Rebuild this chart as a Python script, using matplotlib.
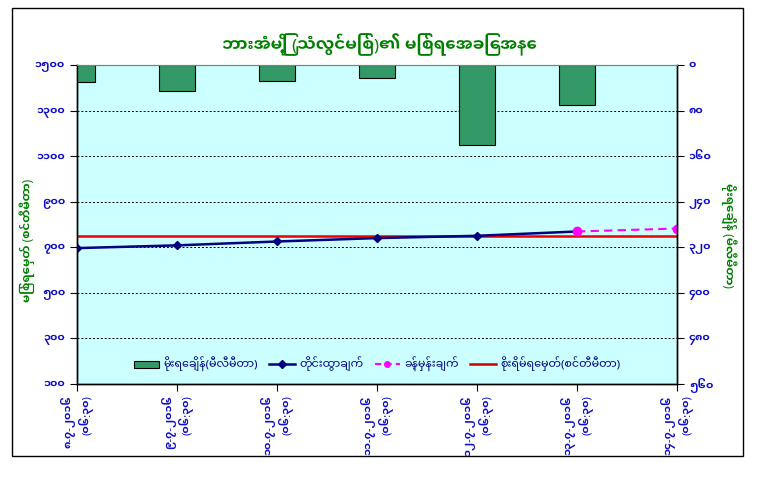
import matplotlib
matplotlib.use("Agg")
import matplotlib.pyplot as plt
from matplotlib.patches import Rectangle, Patch
from matplotlib.lines import Line2D

# ---------------- data ----------------
dates = ["၈-၇-၂၀၁၆", "၉-၇-၂၀၁၆", "၁၀-၇-၂၀၁၆", "၁၁-၇-၂၀၁၆",
         "၁၂-၇-၂၀၁၆", "၁၃-၇-၂၀၁၆", "၁၄-၇-၂၀၁၆"]
times = ["(၀၆:၃၀)"] * 7
rainfall = [30, 46, 28, 23, 140, 70]                 # mm (right axis, inverted)
observed = [697, 709, 726, 741, 751, 770]            # cm
forecast_idx = [5, 6]
forecast = [770, 783]                                # cm
danger_level = 750                                   # cm
left_ticks = [100, 300, 500, 700, 900, 1100, 1300, 1500]
right_ticks = [0, 80, 160, 240, 320, 400, 480, 560]

title = "ဘားအံမြို့ (သံလွင်မြစ်)၏ မြစ်ရေအခြေအနေ"
left_label = "မြစ်ရေမှတ် (စင်တီမီတာ)"
right_label = "မိုးရေချိန် (မီလီမီတာ)"
legend_labels = ["မိုးရေချိန်(မီလီမီတာ)", "တိုင်းထွာချက်", "ခန့်မှန်းချက်",
                 "စိုးရိမ်ရေမှတ်(စင်တီမီတာ)"]

MY_DIGITS = "၀၁၂၃၄၅၆၇၈၉"


def to_my(n):
    return "".join(MY_DIGITS[int(c)] for c in str(n))


plt.rcParams["font.family"] = ["Noto Sans Myanmar UI", "Noto Sans Myanmar",
                               "DejaVu Sans"]

GREEN_TXT = "#008000"
BLUE_TXT = "#1010C8"
NAVY = "#000080"

W, H = 759, 487
fig = plt.figure(figsize=(W / 100, H / 100), dpi=100)
fig.patch.set_facecolor("white")

# outer chart border
fig.add_artist(Rectangle((12 / W, 1 - 456 / H), 731 / W, 448 / H,
                         transform=fig.transFigure, fill=False,
                         edgecolor="black", lw=1.0))

ax1 = fig.add_axes([77 / W, 1 - 384 / H, 600 / W, (384 - 65.3) / H])
ax1.set_facecolor("#CCFFFF")
ax2 = ax1.twinx()
ax2.patch.set_visible(False)

x = list(range(len(dates)))

# left axis: water level
ax1.set_xlim(0, len(dates) - 1)
ax1.set_ylim(left_ticks[0], left_ticks[-1])
ax1.set_yticks(left_ticks)
ax1.set_yticklabels([to_my(v) for v in left_ticks])
ax1.yaxis.grid(True, color="black", linestyle=(0, (2, 2)), lw=0.7)
ax1.set_axisbelow(True)

ax1.plot(x[:len(observed)], observed, color=NAVY, lw=1.8, marker="D",
         markersize=4, zorder=3)
ax1.plot(forecast_idx, forecast, color="#FF00FF", lw=1.5, ls=(0, (4, 2.5)),
         marker="o", markersize=6, zorder=4)
ax1.plot([x[0], x[-1]], [danger_level, danger_level], color="#EE0000",
         lw=1.8, zorder=2)

# right axis: rainfall bars (inverted)
ax2.bar(x[:len(rainfall)], rainfall, width=0.36, color="#339966",
        edgecolor="black", lw=0.8, zorder=2)
ax2.set_ylim(right_ticks[-1], right_ticks[0])
ax2.set_yticks(right_ticks)
ax2.set_yticklabels([to_my(v) for v in right_ticks])

# x ticks
ax1.set_xticks(x)
ax1.set_xticklabels([f"{d}\n{t}" for d, t in zip(dates, times)],
                    rotation=90, ha="center", va="top", ma="right")

for ax in (ax1, ax2):
    ax.tick_params(axis="both", direction="out", length=5, width=0.8,
                   colors="black", labelcolor=BLUE_TXT, labelsize=8)
    for s in ("left", "right", "bottom"):
        ax.spines[s].set_color("black")
        ax.spines[s].set_linewidth(1.0)
    ax.spines["top"].set_color("#808080")
ax1.tick_params(axis="x", pad=3)
for lab in ax1.get_xticklabels() + ax1.get_yticklabels() + ax2.get_yticklabels():
    lab.set_fontweight("bold")

# titles
fig.text(0.5, 1 - 45 / H, title, ha="center", va="center",
         fontsize=12, fontweight="bold", color=GREEN_TXT)
fig.text(27 / W, 1 - 240 / H, left_label, rotation=90, ha="center",
         va="center", fontsize=8.5, fontweight="bold", color=GREEN_TXT)
fig.text(729 / W, 1 - 235 / H, right_label, rotation=-90, ha="center",
         va="center", fontsize=8.5, fontweight="bold", color=GREEN_TXT)

# legend
handles = [
    Patch(facecolor="#339966", edgecolor="black", lw=0.8),
    Line2D([], [], color=NAVY, lw=1.8, marker="D", markersize=4),
    Line2D([], [], color="#FF00FF", lw=1.5, ls=(0, (3, 2)), marker="o",
           markersize=4),
    Line2D([], [], color="#CC0000", lw=1.8),
]
leg = ax2.legend(handles, legend_labels, loc="center",
                 bbox_to_anchor=(0.5, 0.063), ncol=4, frameon=False,
                 fontsize=8, handlelength=2.3, handleheight=0.6,
                 columnspacing=1.0, handletextpad=0.4)
for t in leg.get_texts():
    t.set_color(NAVY)

fig.savefig("out.png", dpi=100)
